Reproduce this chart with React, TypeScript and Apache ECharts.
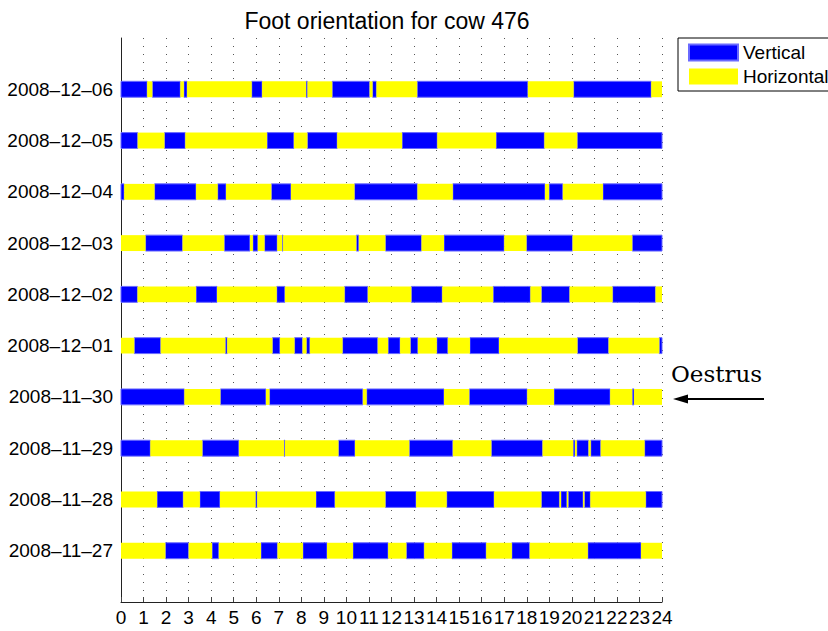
import React, { useEffect, useRef } from 'react';
import * as echarts from 'echarts';

// Row labels, bottom (y = 1) to top (y = 10)
const dates = [
  '2008–11–27', '2008–11–28', '2008–11–29', '2008–11–30', '2008–12–01',
  '2008–12–02', '2008–12–03', '2008–12–04', '2008–12–05', '2008–12–06',
];

// Orientation at hour 0 for each row (V = Vertical, H = Horizontal), same order as dates
const firstStates = ['H', 'H', 'V', 'V', 'H', 'V', 'H', 'V', 'V', 'V'];

// Hours at which the orientation changes, per day
const changes_2008_11_27 = [1.97, 3.0, 4.04, 4.34, 6.21, 6.94, 8.07, 9.14, 10.29, 11.85, 12.66, 13.45, 14.68, 16.2, 17.34, 18.13, 20.71, 23.07];
const changes_2008_11_28 = [1.6, 2.76, 3.5, 4.39, 5.97, 6.04, 8.65, 9.49, 11.73, 13.09, 14.45, 16.55, 18.65, 19.45, 19.52, 19.78, 19.84, 20.5, 20.56, 20.82, 23.28];
const changes_2008_11_29 = [1.3, 3.61, 5.23, 7.23, 7.27, 9.65, 10.38, 12.79, 14.72, 16.43, 18.7, 20.06, 20.14, 20.22, 20.74, 20.84, 21.28, 23.23];
const changes_2008_11_30 = [2.81, 4.41, 6.43, 6.59, 10.73, 10.9, 14.33, 15.45, 18.02, 19.21, 21.7, 22.68, 22.76];
const changes_2008_12_01 = [0.59, 1.76, 4.63, 4.71, 6.72, 7.05, 7.7, 8.05, 8.23, 8.38, 9.83, 11.39, 11.85, 12.38, 12.84, 13.17, 14.01, 14.5, 15.48, 16.77, 20.25, 21.63, 23.88];
const changes_2008_12_02 = [0.73, 3.33, 4.26, 6.91, 7.27, 9.92, 10.95, 12.88, 14.25, 16.51, 18.16, 18.65, 19.9, 21.81, 23.71];
const changes_2008_12_03 = [1.09, 2.73, 4.58, 5.72, 5.85, 6.07, 6.37, 6.93, 7.15, 7.19, 10.44, 10.55, 11.73, 13.33, 14.33, 17.0, 17.99, 20.03, 22.68];
const changes_2008_12_04 = [0.14, 1.49, 3.33, 4.29, 4.66, 6.67, 7.54, 10.36, 13.15, 14.72, 18.81, 18.99, 19.6, 21.38];
const changes_2008_12_05 = [0.74, 1.93, 2.85, 6.48, 7.67, 8.27, 9.59, 12.47, 14.03, 16.64, 18.78, 20.24];
const changes_2008_12_06 = [1.16, 1.39, 2.63, 2.79, 2.93, 5.8, 6.26, 8.21, 8.27, 9.37, 11.03, 11.16, 11.33, 13.14, 18.05, 20.08, 23.52];

const changesByRow = [
  changes_2008_11_27, changes_2008_11_28, changes_2008_11_29, changes_2008_11_30, changes_2008_12_01,
  changes_2008_12_02, changes_2008_12_03, changes_2008_12_04, changes_2008_12_05, changes_2008_12_06,
];

const DAY_START = 0;
const DAY_END = 24;

function buildSegments(state: string): number[][] {
  const out: number[][] = [];
  changesByRow.forEach((edges, i) => {
    const bounds = [DAY_START, ...edges, DAY_END];
    let s = firstStates[i];
    for (let k = 0; k < bounds.length - 1; k++) {
      if (s === state) out.push([bounds[k], bounds[k + 1], i + 1]);
      s = s === 'V' ? 'H' : 'V';
    }
  });
  return out;
}

const FONT = '"Liberation Sans", Arial, Helvetica, sans-serif';

export default function App() {
  const ref = useRef<HTMLDivElement>(null);

  useEffect(() => {
    if (!ref.current) return;
    const chart = echarts.init(ref.current, undefined, { renderer: 'svg' });

    const renderItem = (params: any, api: any) => {
      const p0 = api.coord([api.value(0), api.value(2)]);
      const p1 = api.coord([api.value(1), api.value(2)]);
      const h = api.size([0, 1])[1] * 0.31;
      return {
        type: 'rect',
        shape: { x: p0[0], y: p0[1] - h / 2, width: p1[0] - p0[0], height: h },
        style: api.style(),
      };
    };

    chart.setOption({
      animation: false,
      backgroundColor: '#ffffff',
      textStyle: { fontFamily: FONT },
      title: {
        text: 'Foot orientation for cow 476',
        left: 382,
        textAlign: 'center',
        top: 4,
        textStyle: { fontFamily: FONT, fontSize: 23, fontWeight: 'normal', color: '#000' },
      },
      legend: {
        data: ['Vertical', 'Horizontal'],
        orient: 'vertical',
        left: 678,
        top: 38,
        padding: [5, 40, 5, 10],
        itemGap: 5,
        itemWidth: 49,
        itemHeight: 16,
        icon: 'rect',
        borderColor: '#000',
        borderWidth: 1,
        backgroundColor: '#fff',
        textStyle: { fontFamily: FONT, fontSize: 19, color: '#000' },
      },
      grid: { left: 121, right: 166, top: 38, bottom: 29, containLabel: false },
      xAxis: {
        type: 'value',
        min: 0,
        max: 24,
        interval: 1,
        axisLine: { show: true, lineStyle: { color: '#222', width: 1 } },
        axisTick: { show: true, inside: true, length: 5, lineStyle: { color: '#444' } },
        axisLabel: { fontFamily: FONT, fontSize: 19, color: '#000', margin: 6, showMinLabel: true, showMaxLabel: true },
        splitLine: { show: true, lineStyle: { color: '#555', width: 1, type: [1, 7] } },
      },
      yAxis: {
        type: 'value',
        min: 0,
        max: 11,
        interval: 1,
        axisLine: { show: true, lineStyle: { color: '#222', width: 1 } },
        axisTick: { show: true, inside: true, length: 5, lineStyle: { color: '#444' }, customValues: [1, 2, 3, 4, 5, 6, 7, 8, 9, 10] },
        axisLabel: {
          fontFamily: FONT,
          fontSize: 19,
          color: '#000',
          margin: 8,
          formatter: (v: number) => (v >= 1 && v <= dates.length ? dates[v - 1] : ''),
        },
        splitLine: { show: false },
      },
      series: [
        {
          name: 'Vertical',
          type: 'custom',
          renderItem,
          encode: { x: [0, 1], y: 2 },
          itemStyle: { color: '#0000ff', borderColor: '#6a6aff', borderWidth: 1 },
          data: buildSegments('V'),
        },
        {
          name: 'Horizontal',
          type: 'custom',
          renderItem,
          encode: { x: [0, 1], y: 2 },
          itemStyle: { color: '#ffff00' },
          data: buildSegments('H'),
        },
      ],
      graphic: [
        {
          type: 'text',
          left: 671,
          top: 362,
          style: { text: 'Oestrus', font: '23px "DejaVu Serif", "Liberation Serif", serif', fill: '#000' },
        },
        {
          type: 'line',
          shape: { x1: 764, y1: 399, x2: 684, y2: 399 },
          style: { stroke: '#000', lineWidth: 2 },
        },
        {
          type: 'polygon',
          shape: { points: [[673, 399], [688, 394.5], [688, 403.5]] },
          style: { fill: '#000' },
        },
      ],
    });

    return () => chart.dispose();
  }, []);

  return <div ref={ref} style={{ position: 'absolute', left: 0, top: 0, width: 828, height: 631 }} />;
}
